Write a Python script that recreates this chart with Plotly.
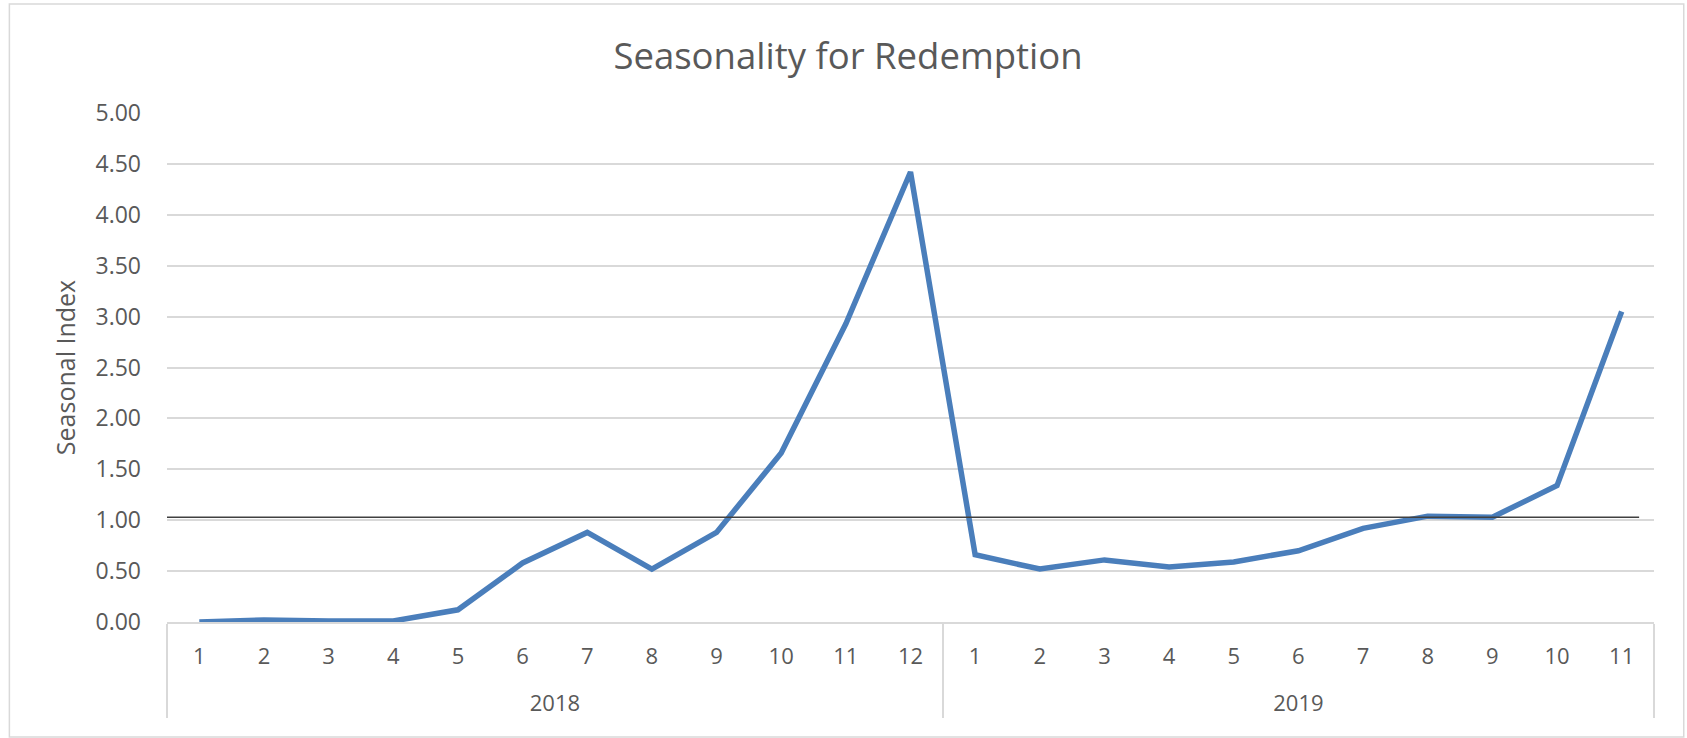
import plotly.graph_objects as go

years = ["2018"] * 12 + ["2019"] * 11
months = [str(m) for m in range(1, 13)] + [str(m) for m in range(1, 12)]
seasonal_index = [0.00, 0.02, 0.01, 0.01, 0.12, 0.58, 0.88, 0.52, 0.88, 1.66, 2.93, 4.42,
                  0.66, 0.52, 0.61, 0.54, 0.59, 0.70, 0.92, 1.04, 1.03, 1.34, 3.05]
reference_level = 1.03
y_ticks = [0, 0.5, 1, 1.5, 2, 2.5, 3, 3.5, 4, 4.5, 5]

FONT = "Open Sans"
TXT = "#595959"

# month labels carry a blank second line so the year row sits lower, as in the reference
month_labels = [m + "<br> " for m in months]

fig = go.Figure()
fig.add_trace(go.Scatter(
    x=[years, month_labels], y=seasonal_index, mode="lines",
    line=dict(color="#4a7ebb", width=5.5), showlegend=False,
))

fig.add_shape(type="line", xref="paper", yref="y", x0=0, x1=0.99,
              y0=reference_level, y1=reference_level,
              line=dict(color="#404040", width=1.5))
fig.add_shape(type="rect", xref="paper", yref="paper",
              x0=-0.106, x1=1.020, y0=-0.226, y1=1.214,
              line=dict(color="#d9d9d9", width=1.5), layer="below")

fig.update_layout(
    width=1687, height=738,
    margin=dict(l=167, r=33, t=113, b=116),
    paper_bgcolor="white", plot_bgcolor="white",
    font=dict(family=FONT, color=TXT, size=22),
    title=dict(text="Seasonality for Redemption", x=848 / 1687, xanchor="center",
               y=1 - 56 / 738, yanchor="middle",
               font=dict(family=FONT, size=36.5, color=TXT)),
    xaxis=dict(
        type="multicategory", range=[-0.5, 22.5],
        showgrid=False, zeroline=False,
        showline=True, linecolor="#d9d9d9", linewidth=1.5,
        showdividers=True, dividercolor="#d9d9d9", dividerwidth=1.5,
        tickfont=dict(size=22, color=TXT), ticks="",
        ticklabelstandoff=14,
    ),
    yaxis=dict(
        range=[0, 5], tickvals=y_ticks, tickformat=".2f",
        showgrid=True, gridcolor="#d9d9d9", gridwidth=1.5,
        zeroline=False, showline=False, ticks="",
        ticklabelstandoff=25,
        tickfont=dict(size=23, color=TXT),
        title=dict(text="Seasonal Index", standoff=12,
                   font=dict(size=25, color=TXT)),
    ),
)

fig.write_html("out.html")
